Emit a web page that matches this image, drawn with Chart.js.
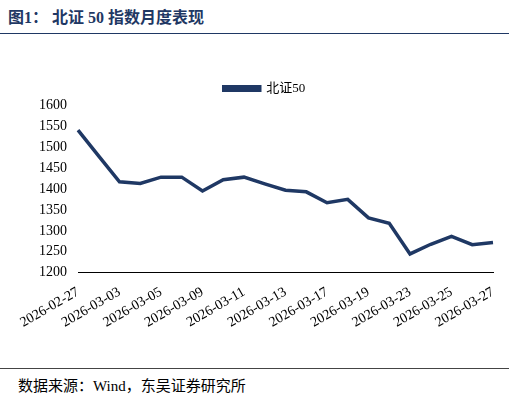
<!DOCTYPE html>
<html><head><meta charset="utf-8">
<script src="https://cdn.jsdelivr.net/npm/chart.js@4"></script>
<style>
body{margin:0;width:509px;height:401px;background:#fff;font-family:"Liberation Serif","Noto Sans CJK SC",serif;}
#title{position:absolute;left:8px;top:4px;font-size:16px;font-weight:bold;color:#1f3864;}
#topline{position:absolute;left:0;top:33px;width:509px;border-top:1.5px solid #1f3864;}
#wrap{position:absolute;left:0;top:72px;width:509px;height:262px;}
#botline{position:absolute;left:0;top:368px;width:509px;border-top:1px solid #444;}
#src{position:absolute;left:18px;top:374px;font-size:15px;color:#000;}
</style></head><body>
<div id="title">图1：&nbsp;北证 50 指数月度表现</div>
<div id="topline"></div>
<div id="wrap"><canvas id="c"></canvas></div>
<div id="botline"></div>
<div id="src">数据来源：Wind，东吴证券研究所</div>
<script>
const dates = ["2026-02-27","2026-03-02","2026-03-03","2026-03-04","2026-03-05","2026-03-06","2026-03-09","2026-03-10","2026-03-11","2026-03-12","2026-03-13","2026-03-16","2026-03-17","2026-03-18","2026-03-19","2026-03-20","2026-03-23","2026-03-24","2026-03-25","2026-03-26","2026-03-27"];
const bz50 = [1540,1478,1417,1413,1428,1428,1395,1422,1428,1412,1397,1393,1367,1375,1331,1318,1245,1268,1287,1267,1272];
const yTicks = [1200,1250,1300,1350,1400,1450,1500,1550,1600];

new Chart(document.getElementById("c"), {
  type: "line",
  data: {
    labels: dates,
    datasets: [{
      label: "北证50",
      data: bz50,
      borderColor: "#1f3864",
      backgroundColor: "#1f3864",
      borderWidth: 3.5,
      pointRadius: 0,
      tension: 0
    }]
  },
  options: {
    responsive: true,
    maintainAspectRatio: false,
    animation: false,
    layout: { padding: { left: 36, right: 16, top: 0, bottom: 0 } },
    plugins: {
      legend: {
        labels: {
          boxWidth: 36, boxHeight: 3.5, color: "#000",
          font: { family: "Liberation Serif, Noto Sans CJK SC", size: 13 }
        }
      },
      tooltip: { enabled: false }
    },
    scales: {
      x: {
        grid: { display: false, drawTicks: true },
        border: { color: "#000" },
        ticks: {
          color: "#000", autoSkip: false, maxRotation: 30, minRotation: 30,
          font: { family: "Liberation Serif", size: 14 },
          callback: (v, i) => i % 2 === 0 ? dates[i] : ""
        }
      },
      y: {
        min: 1200, max: 1600,
        grid: { display: false },
        border: { display: false },
        afterBuildTicks: ax => { ax.ticks = yTicks.map(v => ({ value: v })); },
        ticks: { color: "#000", font: { family: "Liberation Serif", size: 14 }, callback: v => String(v) }
      }
    }
  }
});
</script>
</body></html>
